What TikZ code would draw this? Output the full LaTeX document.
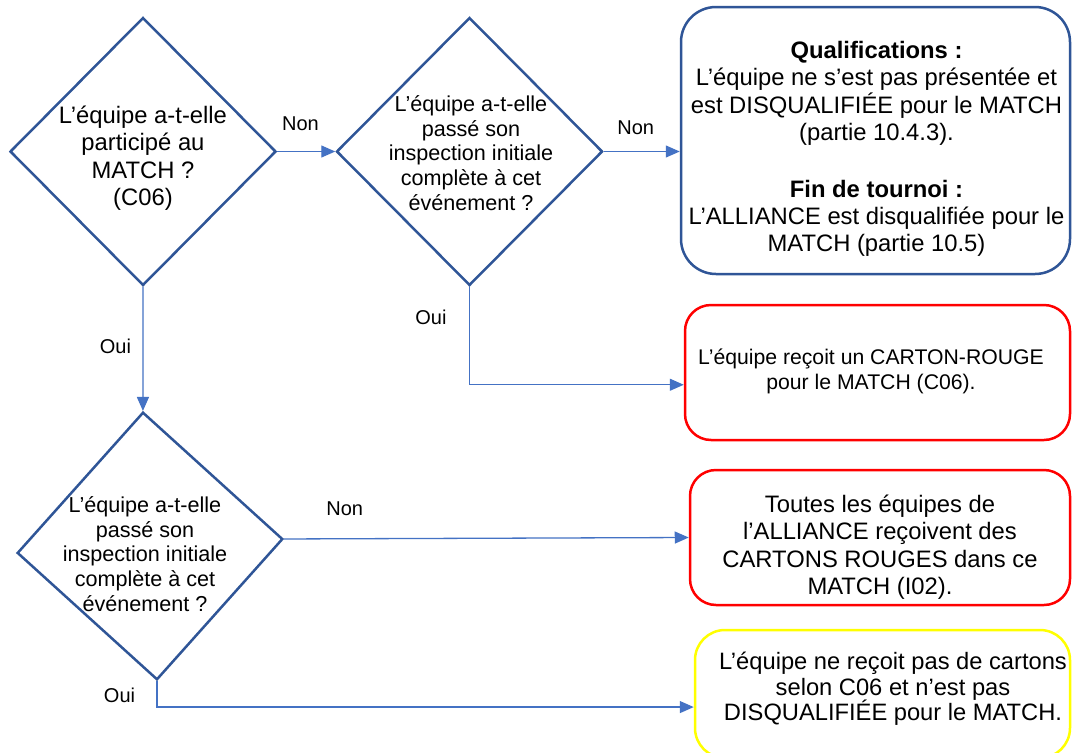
\documentclass[tikz,border=0pt]{standalone}
\usepackage{fontspec}
\setmainfont{Liberation Sans}
\usetikzlibrary{arrows.meta,shapes.geometric}
\definecolor{EdgeBlue}{HTML}{2F5597}
\definecolor{FlowBlue}{HTML}{4472C4}
\definecolor{CardRed}{HTML}{FF0000}
\definecolor{CardYellow}{HTML}{FFFF00}
\definecolor{TextBlack}{HTML}{000000}
\begin{document}
\begin{tikzpicture}[x=1pt,y=-1pt,every node/.style={text=TextBlack},
decision/.style={diamond,draw=EdgeBlue,line width=2.5pt,minimum width=266pt,minimum height=268pt,inner sep=0pt},
outcome/.style={draw,rounded corners=26pt,line width=2.5pt,inner sep=0pt},
flow/.style={-{Triangle[length=14pt,width=12pt]},draw=FlowBlue,line width=1.3pt},
bodytext/.style={align=center,font=\fontsize{23.8}{27.4}\selectfont},
smalltext/.style={align=center,font=\fontsize{21.6}{24.8}\selectfont},
notetext/.style={align=center,font=\fontsize{21.2}{25}\selectfont},
tagtext/.style={font=\fontsize{20}{24}\selectfont}]
\useasboundingbox(0,0)rectangle(1072,753);\clip(0,0)rectangle(1072,753);\fill[white](0,0)rectangle(1072,753);
\node[decision](q1)at(143,151.5){};\node[bodytext](q1t)at(143,158){L’équipe a-t-elle\\participé au\\MATCH ?\\(C06)};
\node[decision](q2)at(469.5,151.5){};\node[smalltext](q2t)at(471,153){L’équipe a-t-elle\\passé son\\inspection initiale\\complète à cet\\événement ?};
\node[decision,rotate=3](q3)at(150,546){};\node[smalltext](q3t)at(145,554){L’équipe a-t-elle\\passé son\\inspection initiale\\complète à cet\\événement ?};
\node[outcome,draw=EdgeBlue,rounded corners=35pt,minimum width=389pt,minimum height=267pt](r1)at(875.5,140.5){};
\node[bodytext](r1t)at(876.5,149){\textbf{Qualifications :}\\L’équipe ne s’est pas présentée et\\est DISQUALIFIÉE pour le MATCH\\(partie 10.4.3).\\[29pt]\textbf{Fin de tournoi :}\\L’ALLIANCE est disqualifiée pour le\\MATCH (partie 10.5)};
\node[outcome,draw=CardRed,minimum width=385pt,minimum height=135pt](r2)at(877.5,372.5){};\node[notetext](r2t)at(871,371){L’équipe reçoit un CARTON-ROUGE\\pour le MATCH (C06).};
\node[outcome,draw=CardRed,minimum width=380pt,minimum height=135pt](r3)at(880,537.5){};\node[bodytext](r3t)at(880,547){Toutes les équipes de\\l’ALLIANCE reçoivent des\\CARTONS ROUGES dans ce\\MATCH (I02).};
\node[outcome,draw=CardYellow,rounded corners=30pt,minimum width=375pt,minimum height=128pt](r4)at(882.5,694){};\node[bodytext,font=\fontsize{23.7}{25.6}\selectfont](r4t)at(893,689){L’équipe ne reçoit pas de cartons\\selon C06 et n’est pas\\DISQUALIFIÉE pour le MATCH.};
\draw[flow](q1.east)--node[tagtext,above=17pt,pos=.4]{Non}(q2.west);
\draw[flow](q2.east)--node[tagtext,above=13pt,pos=.42]{Non}(q2.east-|r1.west);
\draw[flow](q1.south)--node[tagtext,left=8pt,pos=.48]{Oui}(q3.north);
\draw[flow](q2.south)--node[tagtext,left=19pt,pos=.31]{Oui}++(0,98)coordinate(c2)--(c2-|r2.west);
\draw[flow](q3.east)--node[tagtext,above=19pt,pos=.15]{Non}(r3.west);
\draw[flow](q3.south)--node[tagtext,left=18pt,pos=.54]{Oui}++(0,26)coordinate(c4)--(c4-|r4.west);
\end{tikzpicture}
\end{document}
